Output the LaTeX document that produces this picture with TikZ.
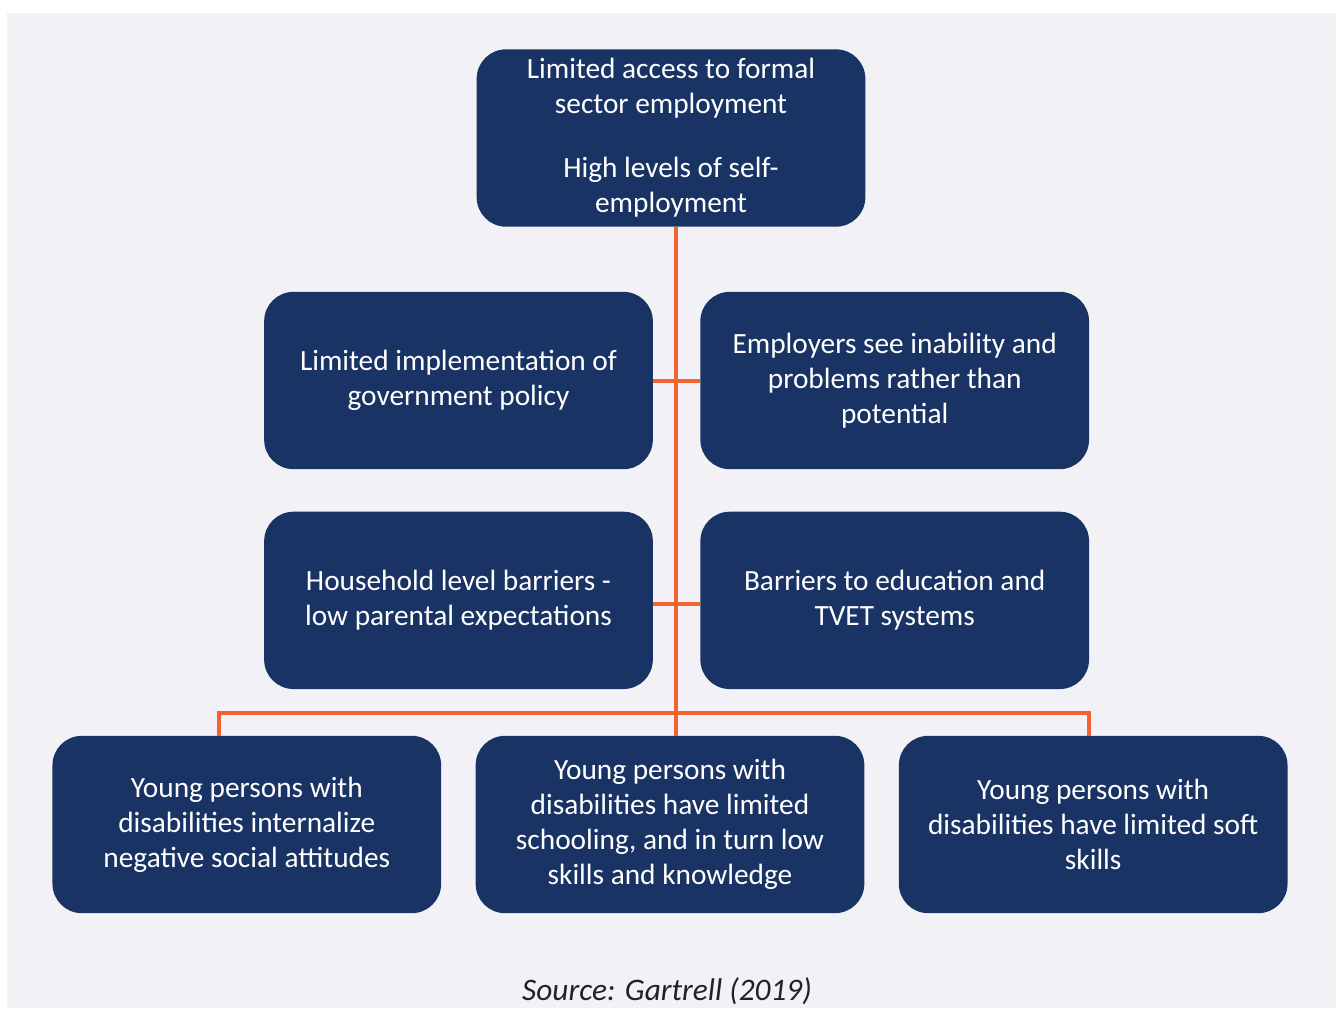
\documentclass[tikz,border=0pt]{standalone}
\usepackage{fontspec}
\setmainfont{Carlito}
\usetikzlibrary{positioning}
\definecolor{navy}{HTML}{1A3365}
\definecolor{barrier}{HTML}{F4622F}
\definecolor{panel}{HTML}{F2F2F6}
\definecolor{caption}{HTML}{222222}

\begin{document}
\begin{tikzpicture}[
    x=0.75pt, y=-0.75pt,
    every node/.style={font=\fontsize{22}{26.3}\selectfont},
    cause/.style={
        rectangle, rounded corners=22pt, fill=navy, text=white,
        minimum width=291.5pt, minimum height=133pt, align=center,
        inner sep=0pt
    },
    link/.style={draw=barrier, line width=3pt},
]

% ===== Page and panel =====
\fill[white] (0,0) rectangle (1336,1008);
\fill[panel] (7,13) rectangle (1336,1008);

% ===== Top: outcome =====
\node[cause] (outcome) at (671,138)
    {Limited access to formal\\ sector employment\\[21.5pt]
     High levels of self-\\ employment};

% ===== Middle rows: barriers =====
\node[cause] (policy) at (458.5,380.5)
    {Limited implementation of\\ government policy};
\node[cause, right=35.25pt of policy] (employers)
    {Employers see inability and\\ problems rather than\\ potential};

\node[cause, below=31.5pt of policy] (household)
    {Household level barriers -\\ low parental expectations};
\node[cause, below=31.5pt of employers] (education)
    {Barriers to education and\\ TVET systems};

% ===== Bottom row: young persons =====
\node[cause] (schooling) at (670,824.5)
    {Young persons with\\ disabilities have limited\\ schooling, and in turn low\\ skills and knowledge};
\node[cause, left=25.5pt of schooling] (attitudes)
    {Young persons with\\ disabilities internalize\\ negative social attitudes};
\node[cause, right=25.5pt of schooling] (softskills)
    {Young persons with\\ disabilities have limited soft\\ skills};

% ===== Connectors =====
\coordinate (hub) at (676,713);
\coordinate (dropL) at (219,713);
\coordinate (dropR) at (1089,713);

\draw[link] (outcome.south -| hub) -- (hub |- schooling.north);
\draw[link] (policy.east) -- (employers.west);
\draw[link] ([yshift=-2.5pt]household.east) -- ([yshift=-2.5pt]education.west);
\draw[link] (dropL |- attitudes.north) -- (dropL) -- (dropR) -- (dropR |- softskills.north);

% ===== Source =====
\node[font=\fontsize{23.5}{28}\selectfont\itshape, text=caption] (source)
    at (667,991) {Source: Gartrell (2019)};

\end{tikzpicture}
\end{document}
